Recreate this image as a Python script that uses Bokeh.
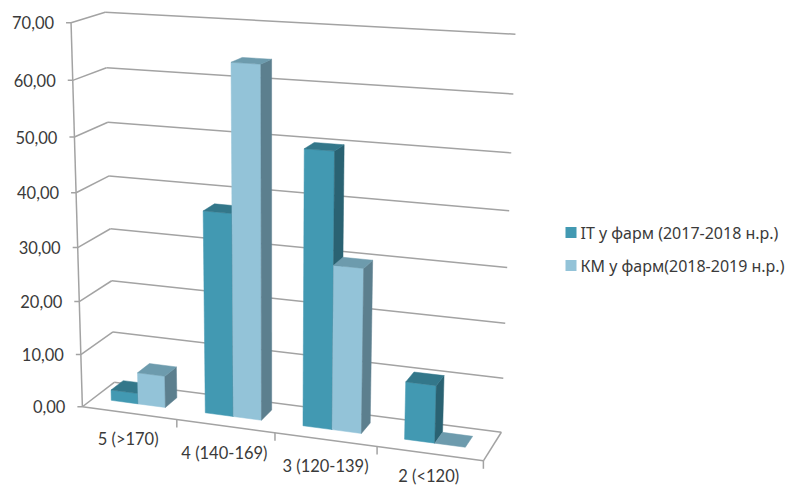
import numpy as np
from bokeh.plotting import figure
from bokeh.embed import file_html
from bokeh.resources import INLINE
from bokeh.core.properties import value

# Chart data
categories = ["5 (>170)", "4 (140-169)", "3 (120-139)", "2 (<120)"]
series_names = ["IT у фарм  (2017-2018 н.р.)", "КМ у фарм(2018-2019 н.р.)"]
it_values = [2.0, 37.5, 50.0, 10.5]
km_values = [6.0, 64.0, 30.0, 0.0]
value_ticks = [0, 10, 20, 30, 40, 50, 60, 70]
value_labels = ["0,00", "10,00", "20,00", "30,00", "40,00", "50,00", "60,00", "70,00"]

# Colours per series: front, top, side
IT_FACES = ("#4299B2", "#33778A", "#2A6272")
KM_FACES = ("#93C3D8", "#6D9BAD", "#5C7F8E")
GRID = "#A3A3A3"
TEXT = "#3A3A3A"

# Camera: (category position, depth, value) -> page position, solved from
# the corners of the chart box.
CAMERA_REFS = [
    ((0, 0, 0), (83, 405)), ((1, 0, 0), (176, 421)), ((2, 0, 0), (273, 433)),
    ((3, 0, 0), (377, 448)), ((4, 0, 0), (483, 458)), ((0, 0, 70), (70, 22)),
    ((0, 0, 10), (81, 353)), ((0, 1, 0), (113, 382)), ((4, 1, 0), (501, 431)),
    ((0, 1, 70), (105, 12)), ((4, 1, 70), (515, 34)), ((0, 1, 60), (106, 67)),
    ((4, 1, 10), (503, 378)),
]


def solve_camera(refs):
    rows, rhs = [], []
    for (u, v, h), (x, y) in refs:
        rows.append([u, v, h, 1, 0, 0, 0, 0, -x * u, -x * v, -x * h])
        rhs.append(x)
        rows.append([0, 0, 0, 0, u, v, h, 1, -y * u, -y * v, -y * h])
        rhs.append(y)
    sol = np.linalg.lstsq(np.array(rows, float), np.array(rhs, float), rcond=None)[0]
    return np.append(sol, 1.0).reshape(3, 4)


CAM = solve_camera(CAMERA_REFS)


def proj(u, v, h):
    x, y, w = CAM @ np.array([u, v, h, 1.0])
    return x / w, y / w


def quad(*corners):
    pts = [proj(*c) for c in corners]
    return [q[0] for q in pts], [q[1] for q in pts]


p = figure(width=789, height=486, x_range=(0, 789), y_range=(486, 0),
           output_backend="svg", toolbar_location=None, min_border=0,
           background_fill_color="white", border_fill_color="white",
           outline_line_color=None)
p.axis.visible = False
p.grid.visible = False


def seg(a, b, width=1.5):
    xa, ya = proj(*a)
    xb, yb = proj(*b)
    p.line([xa, xb], [ya, yb], line_color=GRID, line_width=width)


n = len(categories)

# Walls: gridlines run along the left wall, then the back wall
for h in value_ticks:
    seg((0, 0, h), (0, 1, h))
    seg((0, 1, h), (n, 1, h))

# Floor edges
seg((0, 0, 0), (n, 0, 0))
seg((n, 0, 0), (n, 1, 0))

# Value axis and its ticks
seg((0, 0, 0), (0, 0, value_ticks[-1]))
for h, label in zip(value_ticks, value_labels):
    x, y = proj(0, 0, h)
    p.line([x - 5, x], [y, y], line_color=GRID, line_width=1.5)
    p.text([x - 17], [y], text=[label], text_font=value("Lato"),
           text_font_size="16.5px", text_color=TEXT, text_align="right",
           text_baseline="middle")

# Category ticks and labels; the last one sits a little higher to stay on the page
label_offsets = [(-1, 26), (-1, 27), (0, 26), (-1, 22)]
for i in range(n + 1):
    x, y = proj(i, 0, 0)
    if i > 0:
        p.line([x, x], [y, y + 8], line_color=GRID, line_width=1.5)
for i, name in enumerate(categories):
    x0, y0 = proj(i + 0.5, 0, 0)
    dx, dy = label_offsets[i]
    p.text([x0 + dx], [y0 + dy], text=[name], text_font=value("Lato"),
           text_font_size="16.5px", text_color=TEXT, text_align="center",
           text_baseline="middle")

# Bars
V_FRONT, V_BACK = 0.35, 0.74
GAP = 0.19
WIDTH = 0.29


def bar(u0, h, faces):
    u1 = u0 + WIDTH
    front, top, side = faces
    if h > 0:
        xs, ys = quad((u0, V_FRONT, 0), (u1, V_FRONT, 0), (u1, V_FRONT, h), (u0, V_FRONT, h))
        p.patch(xs, ys, fill_color=front, line_color=front, line_width=0.5)
        xs, ys = quad((u1, V_FRONT, 0), (u1, V_BACK, 0), (u1, V_BACK, h), (u1, V_FRONT, h))
        p.patch(xs, ys, fill_color=side, line_color=side, line_width=0.5)
    xs, ys = quad((u0, V_FRONT, h), (u1, V_FRONT, h), (u1, V_BACK, h), (u0, V_BACK, h))
    p.patch(xs, ys, fill_color=top, line_color=top, line_width=0.5)


for i in range(n):
    bar(i + GAP, it_values[i], IT_FACES)
    bar(i + GAP + WIDTH, km_values[i], KM_FACES)

# Legend
for y, name, faces in zip([232, 265], series_names, [IT_FACES, KM_FACES]):
    p.rect([570.5], [y], width=11, height=11, fill_color=faces[0], line_color=None)
    p.text([580], [y], text=[name], text_font=value("Noto Sans"),
           text_font_size="16px", text_color=TEXT, text_align="left",
           text_baseline="middle")

open("out.html", "w").write(file_html(p, INLINE))
